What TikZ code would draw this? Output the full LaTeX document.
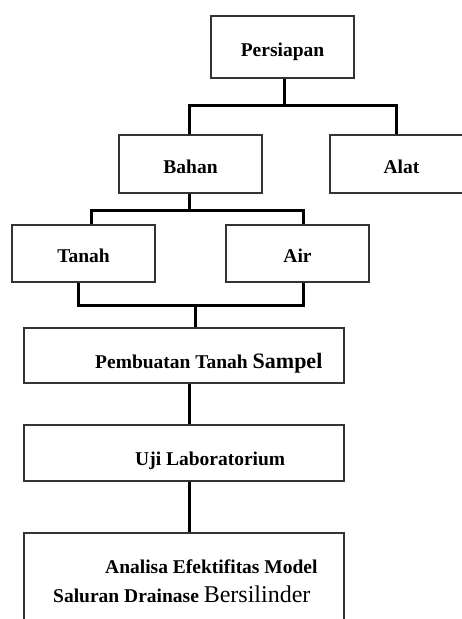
\documentclass[tikz,border=0pt]{standalone}
\usepackage{fontspec}
\setmainfont{Liberation Serif}
\usepackage{tikz}

\begin{document}
\begin{tikzpicture}[
  x=1pt, y=-1pt,
  box/.style={rectangle, draw=black!80, line width=1.4pt, minimum width=143pt, minimum height=#1, inner sep=0pt, font=\fontsize{19.5}{23}\selectfont\bfseries, text height=22pt, text depth=4pt},
  wide/.style={rectangle, draw=black!80, line width=1.4pt, minimum width=320pt, minimum height=#1, inner sep=0pt},
  lbl/.style={anchor=base west, inner sep=0pt, font=\fontsize{19.5}{23}\selectfont\bfseries},
  conn/.style={line width=3pt}
]
  \useasboundingbox (0,0) rectangle (462,619);
  \clip (0,0) rectangle (462,619);

  % top level
  \node[box=62pt] (persiapan) at (282.5,47) {Persiapan};
  \node[box=58pt] (bahan) at (190.5,164) {Bahan};
  \node[box=58pt] (alat) at (401.5,164) {Alat};

  % bahan
  \node[box=57pt] (tanah) at (83.5,253.5) {Tanah};
  \node[box=57pt] (air) at (297.5,253.5) {Air};

  % steps
  \node[wide=55pt] (pembuatan) at (184,355.5) {};
  \node[lbl] (pembuatan-txt) at (95,368) {Pembuatan Tanah {\fontsize{22}{26}\selectfont Sampel}};

  \node[wide=56pt] (uji) at (184,453) {};
  \node[lbl] (uji-txt) at (135,465) {Uji Laboratorium};

  \node[wide=117pt] (analisa) at (184,591.5) {};
  \node[lbl] (analisa-txt1) at (105,573) {Analisa Efektifitas Model};
  \node[lbl] (analisa-txt2) at (53,602) {Saluran Drainase {\fontsize{24}{28}\selectfont\mdseries Bersilinder}};

  % connectors
  \draw[conn] ([xshift=1.5pt]persiapan.south) -- ++(0,27) coordinate (j1);
  \draw[conn] ([xshift=-1.5pt]bahan.north) |- (j1) -| ([xshift=-5.5pt]alat.north);

  \draw[conn] ([xshift=-1.5pt]bahan.south) -- ++(0,17) coordinate (j2);
  \draw[conn] ([xshift=7.5pt]tanah.north) |- (j2) -| ([xshift=5.5pt]air.north);

  \coordinate (j3) at (195,305);
  \draw[conn] ([xshift=-5.5pt]tanah.south) |- (j3) -| ([xshift=5.5pt]air.south);
  \draw[conn] (j3) -- ([xshift=11pt]pembuatan.north);

  \draw[conn] ([xshift=5pt]pembuatan.south) -- ([xshift=5pt]uji.north);
  \draw[conn] ([xshift=5pt]uji.south) -- ([xshift=5pt]analisa.north);
\end{tikzpicture}
\end{document}
